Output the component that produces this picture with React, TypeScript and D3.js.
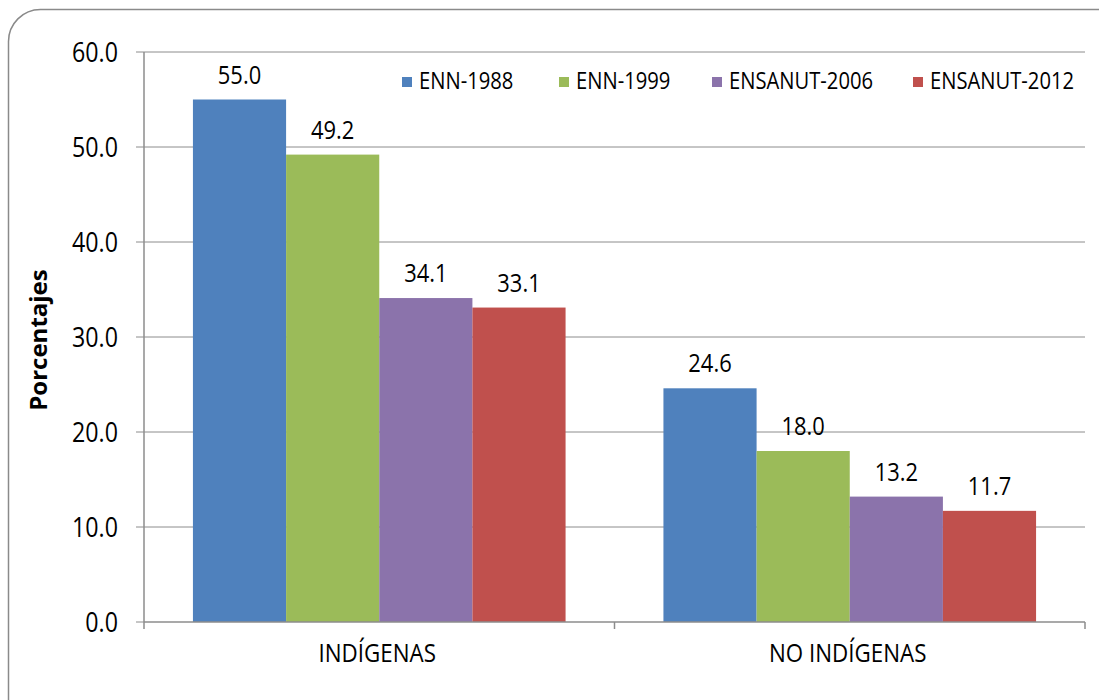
import React from "react";
import * as d3 from "d3";

const categories = ["INDÍGENAS", "NO INDÍGENAS"];
const series = ["ENN-1988", "ENN-1999", "ENSANUT-2006", "ENSANUT-2012"];
const values: number[][] = [
  [55.0, 24.6],
  [49.2, 18.0],
  [34.1, 13.2],
  [33.1, 11.7],
];
const colors = ["#4F81BD", "#9BBB59", "#8B73AB", "#C0504D"];
const yTicks = [0, 10, 20, 30, 40, 50, 60];

const W = 1099;
const H = 700;
const plot = { left: 144, right: 1085, top: 52, bottom: 622 };
const FONT = "'Open Sans', 'Noto Sans', sans-serif";
const SX = 0.86;

function T({ x, y, size, anchor = "middle", weight = 400, children }: any) {
  return (
    <text
      transform={`translate(${x},${y}) scale(${SX},1)`}
      fontSize={size}
      textAnchor={anchor}
      fontWeight={weight}
      fontFamily={FONT}
      fill="#000"
    >
      {children}
    </text>
  );
}

export default function App() {
  const y = d3.scaleLinear().domain([0, 60]).range([plot.bottom, plot.top]);
  const x0 = d3.scaleBand<string>().domain(categories).range([plot.left, plot.right]).padding(0);
  const bw = x0.bandwidth();
  const gap = bw * 0.104;
  const x1 = d3.scaleBand<string>().domain(series).range([gap, bw - gap]).padding(0);

  const legendX = [402, 559, 712, 913];

  return (
    <svg width={W} height={H} style={{ position: "absolute", left: 0, top: 0, background: "#fff" }}>
      <rect x={8.5} y={9.5} width={1130} height={730} rx={32} ry={32} fill="#fff" stroke="#8a8a8a" strokeWidth={1.5} />
      {/* gridlines */}
      {yTicks.map((t) => (
        <g key={t}>
          {t > 0 && (
            <line x1={plot.left} x2={plot.right} y1={y(t)} y2={y(t)} stroke="#8c8c8c" strokeWidth={1} />
          )}
          <line x1={plot.left - 8} x2={plot.left} y1={y(t)} y2={y(t)} stroke="#8c8c8c" strokeWidth={1} />
          <T x={118} y={y(t) + 9.5} size={27} anchor="end">
            {t.toFixed(1)}
          </T>
        </g>
      ))}
      {/* bars */}
      {categories.map((c, ci) => (
        <g key={c} transform={`translate(${x0(c)},0)`}>
          {series.map((s, si) => {
            const v = values[si][ci];
            return (
              <g key={s}>
                <rect x={x1(s)} y={y(v)} width={x1.bandwidth()} height={y(0) - y(v)} fill={colors[si]} />
                <T x={(x1(s) as number) + x1.bandwidth() / 2} y={y(v) - 16} size={25.5}>
                  {v.toFixed(1)}
                </T>
              </g>
            );
          })}
        </g>
      ))}
      {/* axes */}
      <line x1={plot.left} x2={plot.left} y1={plot.top} y2={plot.bottom} stroke="#8c8c8c" strokeWidth={1.5} />
      <line x1={plot.left} x2={plot.right} y1={plot.bottom} y2={plot.bottom} stroke="#8c8c8c" strokeWidth={1.5} />
      {[plot.left, plot.left + bw, plot.right].map((xx, i) => (
        <line key={i} x1={xx} x2={xx} y1={plot.bottom} y2={plot.bottom + 7} stroke="#8c8c8c" strokeWidth={1.5} />
      ))}
      {categories.map((c) => (
        <T key={c} x={(x0(c) as number) + bw / 2 - 2} y={662} size={26}>
          {c}
        </T>
      ))}
      {/* y label */}
      <text
        transform={`translate(${47},${340}) rotate(-90)`}
        fontSize={24}
        fontWeight={700}
        textAnchor="middle"
        fontFamily={FONT}
      >
        Porcentajes
      </text>
      {/* legend */}
      {series.map((s, i) => (
        <g key={s}>
          <rect x={legendX[i]} y={77} width={10} height={10} fill={colors[i]} />
          <T x={legendX[i] + 17} y={89} size={23.5} anchor="start">
            {s}
          </T>
        </g>
      ))}
    </svg>
  );
}
